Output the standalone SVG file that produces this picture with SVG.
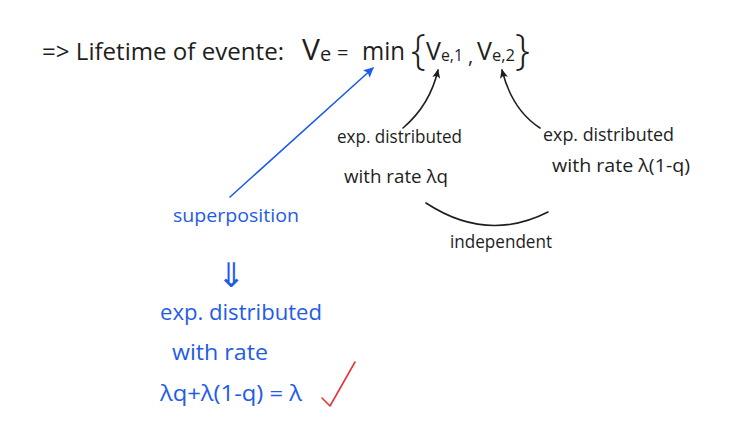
<svg xmlns="http://www.w3.org/2000/svg" width="745" height="438" viewBox="0 0 745 438">
<style>
text{font-family:"Open Sans","Liberation Sans",sans-serif;}
.k{fill:#1e1e1e;}
.b{fill:#1f5ce8;}
.ln{fill:none;stroke-width:1.6;stroke-linecap:round;}
.lk{stroke:#1e1e1e;}
.lb{stroke:#1f5ce8;}
</style>
<defs>
<marker id="ak" markerWidth="10" markerHeight="10" refX="8" refY="5" orient="auto" markerUnits="userSpaceOnUse"><path d="M0,1 L9,5 L0,9 L2,5 Z" fill="#1e1e1e"/></marker>
<marker id="ab" markerWidth="12" markerHeight="12" refX="9" refY="6" orient="auto" markerUnits="userSpaceOnUse"><path d="M0,1 L10,6 L0,11 L2,6 Z" fill="#1f5ce8"/></marker>
</defs>
<rect width="745" height="438" fill="#ffffff"/>
<g id="connectors">
<path class="ln lb" d="M230,197 L373,68" marker-end="url(#ab)"/>
<path class="ln lk" d="M403,128 Q430,105 438,70" marker-end="url(#ak)"/>
<path class="ln lk" d="M540,128 Q512,110 502,70" marker-end="url(#ak)"/>
<path class="ln lk" d="M426,203 Q487,243 548,212"/>
</g>
<g id="title">
<text class="k" x="42" y="60" font-size="23" textLength="242" lengthAdjust="spacingAndGlyphs">=&gt; Lifetime of evente:</text>
<text class="k" x="302" y="60" font-size="30">V</text>
<text class="k" x="320" y="61" font-size="20">e</text>
<text class="k" x="337" y="60" font-size="20">=</text>
<text class="k" x="362" y="60" font-size="26" textLength="43" lengthAdjust="spacingAndGlyphs">min</text>
<text class="k" x="411" y="64" font-size="42" font-weight="300">{</text>
<text class="k" x="426" y="60" font-size="25">V</text>
<text class="k" x="441" y="61" font-size="16" textLength="22" lengthAdjust="spacingAndGlyphs">e,1</text>
<text class="k" x="468" y="63" font-size="20">,</text>
<text class="k" x="477" y="60" font-size="25">V</text>
<text class="k" x="492" y="61" font-size="16" textLength="23" lengthAdjust="spacingAndGlyphs">e,2</text>
<text class="k" x="515" y="64" font-size="42" font-weight="300">}</text>
</g>
<g id="rate1">
<text class="k" x="337" y="143" font-size="18" textLength="125" lengthAdjust="spacingAndGlyphs">exp. distributed</text>
<text class="k" x="344" y="183" font-size="18" textLength="104" lengthAdjust="spacingAndGlyphs">with rate λq</text>
</g>
<g id="rate2">
<text class="k" x="543" y="141" font-size="18" textLength="131" lengthAdjust="spacingAndGlyphs">exp. distributed</text>
<text class="k" x="552" y="172" font-size="18" textLength="138" lengthAdjust="spacingAndGlyphs">with rate λ(1-q)</text>
</g>
<g id="independent">
<text class="k" x="450" y="248" font-size="18" textLength="102" lengthAdjust="spacingAndGlyphs">independent</text>
</g>
<g id="superposition">
<text class="b" x="173" y="222" font-size="18" textLength="126" lengthAdjust="spacingAndGlyphs">superposition</text>
<text class="b" x="231" y="287" font-size="34" text-anchor="middle" style="font-family:'DejaVu Sans',sans-serif">⇓</text>
</g>
<g id="result">
<text class="b" x="160" y="320" font-size="21" textLength="162" lengthAdjust="spacingAndGlyphs">exp. distributed</text>
<text class="b" x="172" y="360" font-size="21" textLength="96" lengthAdjust="spacingAndGlyphs">with rate</text>
<text class="b" x="160" y="401" font-size="21" textLength="142" lengthAdjust="spacingAndGlyphs">λq+λ(1-q) = λ</text>
<path d="M322,398 L330,406 L355,362" fill="none" stroke="#e8343a" stroke-width="1.6" stroke-linecap="round" stroke-linejoin="round"/>
</g>
</svg>
